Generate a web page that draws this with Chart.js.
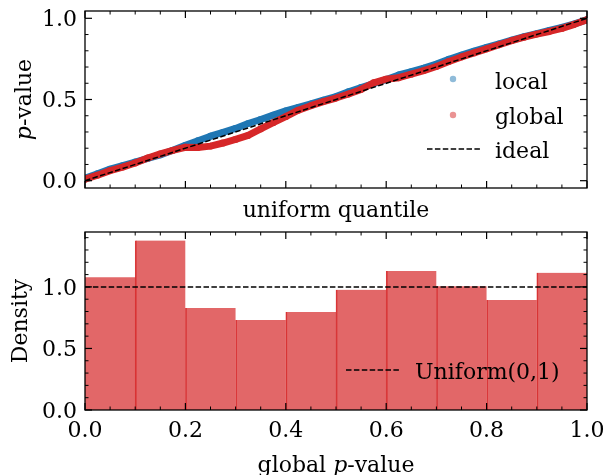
<!DOCTYPE html>
<html lang="en">
  <head>
    <meta charset="utf-8" />
    <script src="https://cdn.jsdelivr.net/npm/chart.js@4"></script>
    <style>
      body { margin: 0; background: #fff; }
      #wrap { position: relative; width: 606px; height: 475px; }
      #qqBox { position: absolute; left: 0; top: 0; width: 606px; height: 225px; }
      #histBox { position: absolute; left: 0; top: 225px; width: 606px; height: 250px; }
    </style>
    <title>index</title>
  </head>
  <body>
    <div id="wrap">
      <div id="qqBox"><canvas id="qqChart" width="606" height="225"></canvas></div>
      <div id="histBox"><canvas id="histChart" width="606" height="250"></canvas></div>
    </div>
    <script>
      // --- top panel: p-value vs uniform quantile
      const quantiles = [
        0.0, 0.025, 0.05, 0.075, 0.1, 0.125, 0.15, 0.175, 0.2, 0.225, 0.25,
        0.275, 0.3, 0.325, 0.35, 0.375, 0.4, 0.425, 0.45, 0.475, 0.5, 0.525,
        0.55, 0.575, 0.6, 0.625, 0.65, 0.675, 0.7, 0.725, 0.75, 0.775, 0.8,
        0.825, 0.85, 0.875, 0.9, 0.925, 0.95, 0.975, 1.0,
      ];
      const localP = [
        0.015, 0.043, 0.071, 0.093, 0.115, 0.137, 0.159, 0.187, 0.218, 0.246,
        0.274, 0.298, 0.322, 0.352, 0.377, 0.404, 0.43, 0.452, 0.473, 0.496,
        0.518, 0.548, 0.574, 0.598, 0.623, 0.651, 0.671, 0.693, 0.718, 0.748,
        0.773, 0.798, 0.821, 0.843, 0.865, 0.887, 0.906, 0.925, 0.944, 0.966,
        0.991,
      ];
      const globalP = [
        0.009, 0.034, 0.062, 0.084, 0.109, 0.14, 0.165, 0.187, 0.206, 0.204,
        0.213, 0.232, 0.254, 0.279, 0.319, 0.357, 0.394, 0.434, 0.462, 0.487,
        0.509, 0.534, 0.562, 0.603, 0.625, 0.634, 0.656, 0.678, 0.703, 0.734,
        0.762, 0.787, 0.812, 0.837, 0.862, 0.884, 0.903, 0.919, 0.938, 0.963,
        0.991,
      ];
      const idealX = [0, 1];
      const idealY = [0, 1];

      // --- bottom panel: histogram of global p-values
      const binCenters = [0.05, 0.15, 0.25, 0.35, 0.45, 0.55, 0.65, 0.75, 0.85, 0.95];
      const density = [1.076, 1.377, 0.829, 0.732, 0.797, 0.976, 1.13, 1.006, 0.894, 1.114];
      const uniformX = [0, 1];
      const uniformY = [1, 1];

      // ticks
      const xMajor = [0, 0.2, 0.4, 0.6, 0.8, 1.0];
      const xMinor = [0.05, 0.1, 0.15, 0.25, 0.3, 0.35, 0.45, 0.5, 0.55, 0.65, 0.7, 0.75, 0.85, 0.9, 0.95];
      const qqYMajor = [0, 0.5, 1.0];
      const qqYMinor = [0.1, 0.2, 0.3, 0.4, 0.6, 0.7, 0.8, 0.9];
      const histYMajor = [0, 0.5, 1.0];
      const histYMinor = [0.1, 0.2, 0.3, 0.4, 0.6, 0.7, 0.8, 0.9, 1.1, 1.2, 1.3, 1.4];

      const SERIF = "'DejaVu Serif', serif";
      const FS = 22;
      const BLUE = "#1f77b4";
      const RED = "#d62728";

      const toPts = (xs, ys) => xs.map((x, i) => ({ x: x, y: ys[i] }));

      // keep label overflow from shrinking the plot box
      const noPad = (s) => {
        s.paddingLeft = 0;
        s.paddingRight = 0;
        s.paddingTop = 0;
        s.paddingBottom = 0;
      };

      // box + inward ticks on all four sides (matplotlib style)
      const frameTicks = {
        id: "frameTicks",
        afterDatasetsDraw(chart, args, opts) {
          const { ctx, chartArea: a } = chart;
          const sx = chart.scales.x;
          const sy = chart.scales.y;
          ctx.save();
          ctx.strokeStyle = "#000";
          const line = (x1, y1, x2, y2) => {
            ctx.beginPath();
            ctx.moveTo(x1, y1);
            ctx.lineTo(x2, y2);
            ctx.stroke();
          };
          const xt = (vals, len) => {
            vals.forEach((v) => {
              const px = sx.getPixelForValue(v);
              line(px, a.bottom, px, a.bottom - len);
              line(px, a.top, px, a.top + len);
            });
          };
          const yt = (vals, len) => {
            vals.forEach((v) => {
              const py = sy.getPixelForValue(v);
              line(a.left, py, a.left + len, py);
              line(a.right, py, a.right - len, py);
            });
          };
          ctx.lineWidth = 1;
          xt(opts.xMinor, 3.5);
          yt(opts.yMinor, 3.5);
          ctx.lineWidth = 1.2;
          xt(opts.xMajor, 7);
          yt(opts.yMajor, 7);
          ctx.lineWidth = 1.3;
          ctx.strokeRect(a.left, a.top, a.width, a.height);
          ctx.restore();
        },
      };

      // text with italic pieces, e.g. "p-value"
      function richText(ctx, parts, x, y, rotate, align) {
        ctx.save();
        ctx.translate(x, y);
        if (rotate) ctx.rotate(-Math.PI / 2);
        ctx.fillStyle = "#000";
        ctx.textBaseline = "alphabetic";
        ctx.textAlign = "left";
        let total = 0;
        parts.forEach((p) => {
          ctx.font = (p.i ? "italic " : "") + FS + "px " + SERIF;
          total += ctx.measureText(p.t).width;
        });
        let cx = align === "left" ? 0 : -total / 2;
        parts.forEach((p) => {
          ctx.font = (p.i ? "italic " : "") + FS + "px " + SERIF;
          ctx.fillText(p.t, cx, 0);
          cx += ctx.measureText(p.t).width;
        });
        ctx.restore();
      }

      function dashed(ctx, x1, x2, y) {
        ctx.save();
        ctx.strokeStyle = "#000";
        ctx.lineWidth = 1.5;
        ctx.setLineDash([5.5, 2.4]);
        ctx.beginPath();
        ctx.moveTo(x1, y);
        ctx.lineTo(x2, y);
        ctx.stroke();
        ctx.restore();
      }

      const qqText = {
        id: "qqText",
        afterDraw(chart) {
          const ctx = chart.ctx;
          const a = chart.chartArea;
          richText(ctx, [{ t: "p", i: true }, { t: "-value" }], 31, (a.top + a.bottom) / 2, true);
          richText(ctx, [{ t: "uniform quantile" }], (a.left + a.right) / 2, 217, false);
          // legend
          ctx.save();
          ctx.fillStyle = "rgba(31,119,180,0.5)";
          ctx.beginPath();
          ctx.arc(453, 79, 3.2, 0, Math.PI * 2);
          ctx.fill();
          ctx.fillStyle = "rgba(214,39,40,0.5)";
          ctx.beginPath();
          ctx.arc(453, 115, 3.2, 0, Math.PI * 2);
          ctx.fill();
          ctx.restore();
          dashed(ctx, 427, 480, 149);
          richText(ctx, [{ t: "local" }], 495, 89, false, "left");
          richText(ctx, [{ t: "global" }], 495, 124, false, "left");
          richText(ctx, [{ t: "ideal" }], 495, 158, false, "left");
        },
      };

      const histText = {
        id: "histText",
        afterDraw(chart) {
          const ctx = chart.ctx;
          const a = chart.chartArea;
          richText(ctx, [{ t: "Density" }], 27, (a.top + a.bottom) / 2, true);
          richText(ctx, [{ t: "global " }, { t: "p", i: true }, { t: "-value" }], (a.left + a.right) / 2, 247, false);
          dashed(ctx, 346, 400, 145);
          richText(ctx, [{ t: "Uniform(0,1)" }], 415, 154, false, "left");
        },
      };

      const tickFont = { family: SERIF, size: FS };

      new Chart(document.getElementById("qqChart"), {
        type: "scatter",
        data: {
          datasets: [
            {
              label: "ideal",
              data: toPts(idealX, idealY),
              showLine: true,
              borderColor: "#000",
              borderWidth: 1.5,
              borderDash: [5.5, 2.4],
              pointRadius: 0,
              order: 0,
            },
            {
              label: "global",
              data: toPts(quantiles, globalP),
              showLine: true,
              borderColor: RED,
              borderWidth: 7,
              borderCapStyle: "round",
              borderJoinStyle: "round",
              pointRadius: 3.4,
              pointBorderWidth: 0,
              pointBackgroundColor: RED,
              order: 1,
            },
            {
              label: "local",
              data: toPts(quantiles, localP),
              showLine: true,
              borderColor: BLUE,
              borderWidth: 7,
              borderCapStyle: "round",
              borderJoinStyle: "round",
              pointRadius: 3.4,
              pointBorderWidth: 0,
              pointBackgroundColor: BLUE,
              order: 2,
            },
          ],
        },
        options: {
          responsive: false,
          animation: false,
          events: [],
          layout: { padding: { top: 11, right: 19, left: 0, bottom: 0 } },
          plugins: {
            legend: { display: false },
            tooltip: { enabled: false },
            frameTicks: { xMajor: xMajor, xMinor: xMinor, yMajor: qqYMajor, yMinor: qqYMinor },
          },
          scales: {
            x: {
              type: "linear",
              min: 0,
              max: 1,
              grid: { display: false, drawTicks: false },
              border: { display: false },
              ticks: { display: false },
              afterFit: (s) => { s.height = 37; noPad(s); },
            },
            y: {
              type: "linear",
              min: -0.045,
              max: 1.045,
              grid: { display: false, drawTicks: false },
              border: { display: false },
              ticks: {
                font: tickFont,
                color: "#000",
                padding: 8,
                labelOffset: 2,
                callback: (v) => v.toFixed(1),
              },
              afterBuildTicks: (s) => { s.ticks = qqYMajor.map((v) => ({ value: v })); },
              afterFit: (s) => { s.width = 85; noPad(s); },
            },
          },
        },
        plugins: [frameTicks, qqText],
      });

      new Chart(document.getElementById("histChart"), {
        type: "bar",
        data: {
          datasets: [
            {
              type: "line",
              label: "Uniform(0,1)",
              data: toPts(uniformX, uniformY),
              borderColor: "#000",
              borderWidth: 1.5,
              borderDash: [5.5, 2.4],
              pointRadius: 0,
              order: 0,
            },
            {
              label: "global",
              data: toPts(binCenters, density),
              backgroundColor: "rgba(214,39,40,0.7)",
              borderColor: "rgba(214,39,40,0.9)",
              borderWidth: (c) => ({ left: c.dataIndex > 0 ? 1 : 0, right: 0, top: 0, bottom: 0 }),
              borderSkipped: false,
              barPercentage: 1,
              categoryPercentage: 1,
              order: 1,
            },
          ],
        },
        options: {
          responsive: false,
          animation: false,
          events: [],
          layout: { padding: { top: 7, right: 19, left: 0, bottom: 0 } },
          plugins: {
            legend: { display: false },
            tooltip: { enabled: false },
            frameTicks: { xMajor: xMajor, xMinor: xMinor, yMajor: histYMajor, yMinor: histYMinor },
          },
          scales: {
            x: {
              type: "linear",
              min: 0,
              max: 1,
              offset: false,
              grid: { display: false, drawTicks: false },
              border: { display: false },
              ticks: {
                font: tickFont,
                color: "#000",
                padding: 8,
                maxRotation: 0,
                autoSkip: false,
                callback: (v) => v.toFixed(1),
              },
              afterBuildTicks: (s) => { s.ticks = xMajor.map((v) => ({ value: v })); },
              afterFit: (s) => { s.height = 65; noPad(s); },
            },
            y: {
              type: "linear",
              min: 0,
              max: 1.446,
              grid: { display: false, drawTicks: false },
              border: { display: false },
              ticks: {
                font: tickFont,
                color: "#000",
                padding: 8,
                labelOffset: 2,
                callback: (v) => v.toFixed(1),
              },
              afterBuildTicks: (s) => { s.ticks = histYMajor.map((v) => ({ value: v })); },
              afterFit: (s) => { s.width = 85; noPad(s); },
            },
          },
        },
        plugins: [frameTicks, histText],
      });
    </script>
  </body>
</html>
